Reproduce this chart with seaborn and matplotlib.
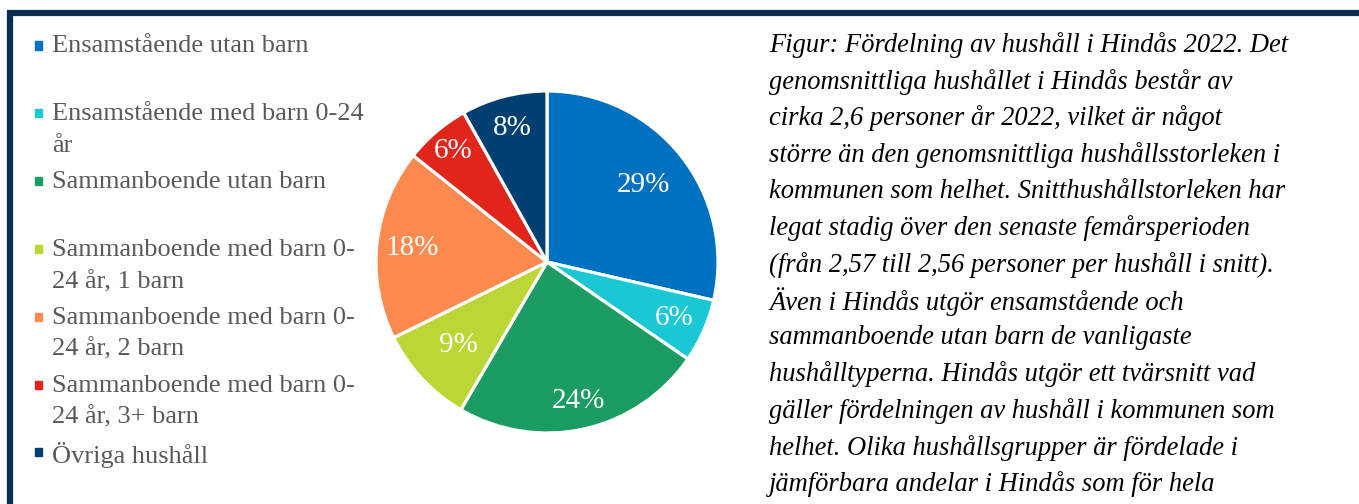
import matplotlib
matplotlib.use("Agg")
import matplotlib.pyplot as plt
import seaborn as sns
from matplotlib.lines import Line2D

# Data
kategorier = [
    "Ensamstående utan barn",
    "Ensamstående med barn 0-24\når",
    "Sammanboende utan barn",
    "Sammanboende med barn 0-\n24 år, 1 barn",
    "Sammanboende med barn 0-\n24 år, 2 barn",
    "Sammanboende med barn 0-\n24 år, 3+ barn",
    "Övriga hushåll",
]
andelar = [28.6, 6.0, 23.8, 9.3, 18.0, 6.2, 8.1]
farger = ["#0070C0", "#19C8D4", "#1A9C63", "#BCD636", "#FE8A50", "#E1251B", "#003F71"]

figurtext = [
    "Figur: Fördelning av hushåll i Hindås 2022. Det",
    "genomsnittliga hushållet i Hindås består av",
    "cirka 2,6 personer år 2022, vilket är något",
    "större än den genomsnittliga hushållsstorleken i",
    "kommunen som helhet. Snitthushållstorleken har",
    "legat stadig över den senaste femårsperioden",
    "(från 2,57 till 2,56 personer per hushåll i snitt).",
    "Även i Hindås utgör ensamstående och",
    "sammanboende utan barn de vanligaste",
    "hushålltyperna. Hindås utgör ett tvärsnitt vad",
    "gäller fördelningen av hushåll i kommunen som",
    "helhet. Olika hushållsgrupper är fördelade i",
    "jämförbara andelar i Hindås som för hela",
]

sns.set_theme(style="white")
plt.rcParams["font.family"] = ["Liberation Serif", "DejaVu Serif"]

W, H = 1359, 504
fig = plt.figure(figsize=(W / 100, H / 100), dpi=100)
fig.patch.set_facecolor("white")


def px(x, y):
    # pixel position (from top-left) -> figure fraction
    return x / W, 1 - y / H


# frame (only top and left edges are visible in the crop)
ram = "#0B2D50"
fig.add_artist(Line2D([7 / W, 1.0], [1 - 13 / H, 1 - 13 / H], color=ram, lw=4.5,
                      transform=fig.transFigure, solid_capstyle="butt"))
fig.add_artist(Line2D([9.5 / W, 9.5 / W], [0, 1 - 10.5 / H], color=ram, lw=4.5,
                      transform=fig.transFigure, solid_capstyle="butt"))

# pie
cx, cy, r = 547, 262, 171
ax = fig.add_axes([(cx - r) / W, (H - cy - r) / H, 2 * r / W, 2 * r / H])
wedges, _, pct = ax.pie(
    andelar, colors=farger, startangle=90, counterclock=False,
    autopct="%.0f%%", pctdistance=0.78,
    wedgeprops=dict(edgecolor="white", linewidth=2.3),
    textprops=dict(color="white", fontsize=21),
)
# label distance per slice, like Excel's best fit
avstand = [0.72, 0.81, 0.83, 0.71, 0.79, 0.85, 0.81]
for t, d in zip(pct, avstand):
    x, y = t.get_position()
    t.set_position((x * d / 0.78, y * d / 0.78))
ax.set_xlim(-1, 1)
ax.set_ylim(-1, 1)
ax.set_aspect("equal")
ax.axis("off")

# legend, one equal slot per category
slot = 67.8
for i, (lbl, col) in enumerate(zip(kategorier, farger)):
    yc = 45.5 + slot * i
    fig.patches.append(plt.Rectangle(px(34.5, yc + 4), 8 / W, 8 / H, color=col,
                                     transform=fig.transFigure, figure=fig))
    fig.text(*px(52, yc - 10), lbl, ha="left", va="top", fontsize=19,
             color="#595959", linespacing=1.55)

# caption
for i, rad in enumerate(figurtext):
    fig.text(*px(769, 45 + 36.6 * i), rad, ha="left", va="center",
             fontsize=19.1, style="italic", color="black")

fig.savefig("out.png", dpi=100, facecolor="white")
